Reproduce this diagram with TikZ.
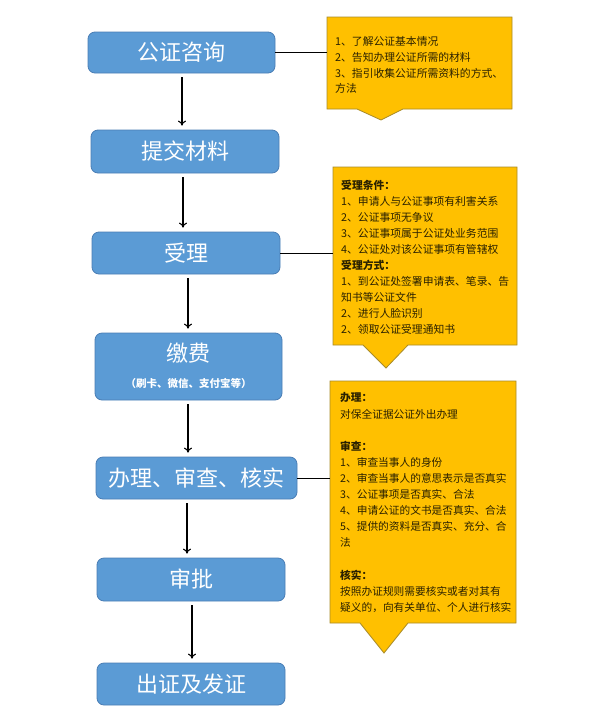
\documentclass[tikz,border=0pt]{standalone}
\usepackage{fontspec}
\newfontfamily\cjk{Noto Sans CJK SC}
\usetikzlibrary{arrows.meta,calc}
\definecolor{boxblue}{HTML}{5B9BD5}
\definecolor{boxedge}{HTML}{4A7EB5}
\definecolor{callfill}{HTML}{FFC000}
\definecolor{calledge}{HTML}{A88B2A}
\definecolor{calltext}{HTML}{2A2100}
\begin{document}
\begin{tikzpicture}[x=1pt,y=-1pt,
 stepbox/.style={draw=boxedge, line width=0.8pt, fill=boxblue, rounded corners=7pt, text=white, font=\cjk\fontsize{22}{26}\selectfont, inner sep=0pt},
 boxtxt/.style={text=white, inner sep=0pt, font=\cjk\fontsize{22}{26}\selectfont},
 subtxt/.style={text=white, inner sep=0pt, font=\cjk\bfseries\fontsize{10.5}{12}\selectfont},
 arr/.style={-{To[length=5pt,width=8pt]}, line width=1.1pt, shorten <=4pt, shorten >=4pt},
 link/.style={line width=1pt},
 callout/.style={fill=callfill, draw=calledge, line width=0.8pt},
 calltxt/.style={anchor=north west, inner sep=0pt, align=left, text=calltext}]
\useasboundingbox (0,0) rectangle (595,721);
\fill[white] (0,0) rectangle (595,721);

% process boxes
\node[stepbox, minimum width=187pt, minimum height=41pt] (b1) at (181.5,52.5) {公证咨询};
\node[stepbox, minimum width=188pt, minimum height=43pt] (b2) at (185,151.5) {提交材料};
\node[stepbox, minimum width=188pt, minimum height=42pt] (b3) at (186,253) {受理};
\node[stepbox, minimum width=187pt, minimum height=67pt] (b4) at (188.5,366.5) {};
\node[boxtxt] (b4t) at (188.5,353) {缴费};
\node[subtxt] (b4s) at (188.5,383) {（刷卡、微信、支付宝等）};
\node[stepbox, minimum width=201pt, minimum height=42pt] (b5) at (196.5,478) {办理、审查、核实};
\node[stepbox, minimum width=188pt, minimum height=43pt] (b6) at (191,579.5) {审批};
\node[stepbox, minimum width=188pt, minimum height=42pt] (b7) at (191,684) {出证及发证};

% arrows
\draw[arr] (b1.south -| 182,0) -- (b2.north -| 182,0);
\draw[arr] (b2.south -| 183,0) -- (b3.north -| 183,0);
\draw[arr] (b3.south -| 188,0) -- (b4.north -| 188,0);
\draw[arr] (b4.south -| 188,0) -- (b5.north -| 188,0);
\draw[arr] (b5.south -| 187,0) -- (b6.north -| 187,0);
\draw[arr] (b6.south -| 192,0) -- (b7.north -| 192,0);

% callouts
\draw[callout] (327,17) -- (512,17) -- (512,109) -- (403,109) -- (381,120) -- (357,109) -- (327,109) -- cycle;
\coordinate (c1w) at (327,52.5);
\draw[callout] (333,167) -- (517,167) -- (517,345) -- (408,345) -- (386,368) -- (363,345) -- (333,345) -- cycle;
\coordinate (c2w) at (333,253);
\draw[callout] (330,381) -- (516,381) -- (516,623) -- (408,623) -- (384,653) -- (360,623) -- (330,623) -- cycle;
\coordinate (c3w) at (330,478);

\draw[link] (b1.east) -- (c1w);
\draw[link] (b3.east) -- (c2w);
\draw[link] (b5.east) -- (c3w);

\node[calltxt, font=\cjk\fontsize{10.8}{15.7}\selectfont] (t1) at (335,36.6) {1、了解公证基本情况\\2、告知办理公证所需的材料\\3、指引收集公证所需资料的方式、\\方法};

\node[calltxt, font=\cjk\fontsize{10.8}{16}\selectfont] (t2) at (341,179.6) {{\bfseries 受理条件：}\\1、申请人与公证事项有利害关系\\2、公证事项无争议\\3、公证事项属于公证处业务范围\\4、公证处对该公证事项有管辖权\\{\bfseries 受理方式：}\\1、到公证处签署申请表、笔录、告\\知书等公证文件\\2、进行人脸识别\\2、领取公证受理通知书};

\node[calltxt, font=\cjk\fontsize{10.7}{16.1}\selectfont] (t3) at (340,392.6) {{\bfseries 办理：}\\对保全证据公证外出办理\\~\\{\bfseries 审查：}\\1、审查当事人的身份\\2、审查当事人的意思表示是否真实\\3、公证事项是否真实、合法\\4、申请公证的文书是否真实、合法\\5、提供的资料是否真实、充分、合\\法\\~\\{\bfseries 核实：}\\按照办证规则需要核实或者对其有\\疑义的，向有关单位、个人进行核实};
\end{tikzpicture}
\end{document}
